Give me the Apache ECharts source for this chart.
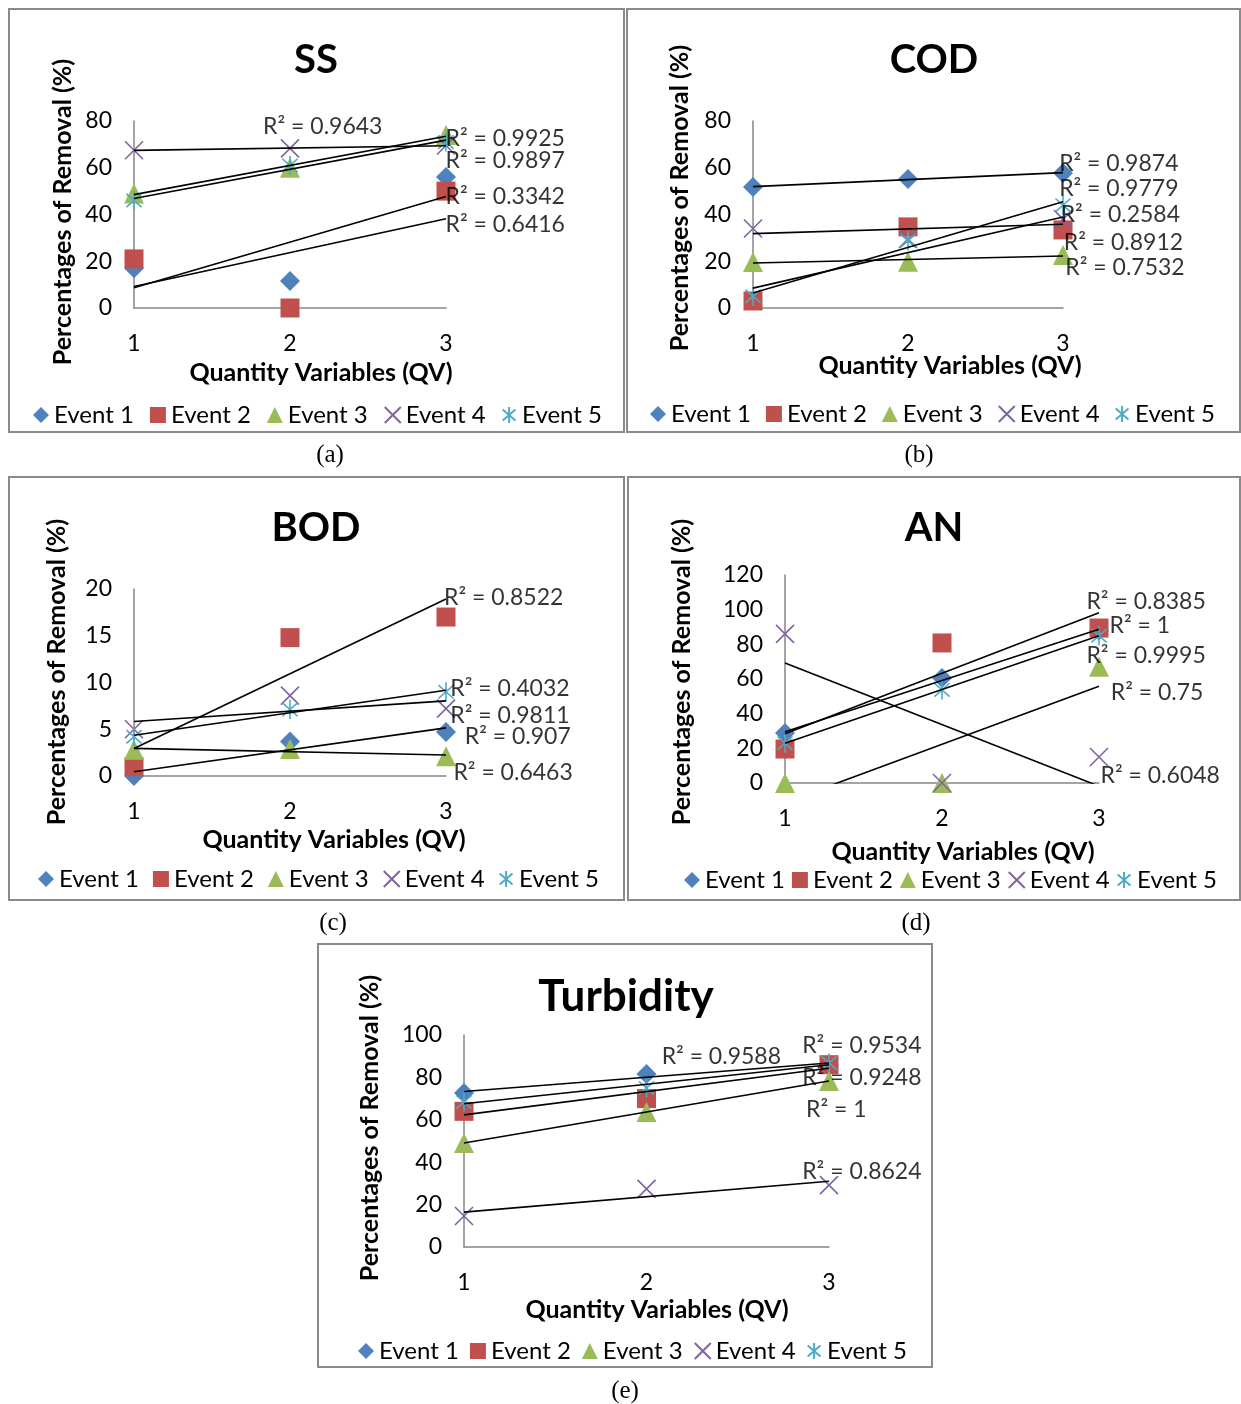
<!DOCTYPE html>
<html><head><meta charset="utf-8">
<script src="https://cdn.jsdelivr.net/npm/echarts@6/dist/echarts.min.js"></script>
<style>html,body{margin:0;padding:0;background:#fff}#c{width:1241px;height:1404px}</style>
</head><body><div id="c"></div>
<script>
// ---------- DATA ----------
const qv = [1, 2, 3];
const eventNames = ['Event 1', 'Event 2', 'Event 3', 'Event 4', 'Event 5'];
const chartTitles = ['SS', 'COD', 'BOD', 'AN', 'Turbidity'];
const captions = ['(a)', '(b)', '(c)', '(d)', '(e)'];
const xAxisTitle = 'Quantity Variables (QV)';
const yAxisTitle = 'Percentages of Removal (%)';

// rows = Event 1..5, columns = QV 1,2,3
const ssValues   = [[17, 11.5, 56], [21, 0, 50], [49, 60, 74], [67.5, 68.3, 69.5], [46, 61, 71]];
const codValues  = [[51.8, 55.2, 57.8], [3, 34.7, 33.4], [19.7, 19.8, 22.7], [34, 29.5, 38], [5, 28.8, 44]];
const bodValues  = [[0, 3.7, 4.7], [1, 14.8, 17], [2.8, 2.9, 2.1], [5, 8.6, 7.2], [4.2, 7.1, 9]];
const anValues   = [[28.8, 60.6, 88], [19.6, 80.8, 89.4], [0, 0, 67], [86, 0, 15], [23, 53.7, 85]];
const turbValues = [[72.6, 81.6, 86], [64, 70, 86], [49, 63.7, 78.3], [14.6, 27.4, 29.2], [68.4, 75, 86.8]];

const ssR2   = ['R² = 0.9643', 'R² = 0.9925', 'R² = 0.9897', 'R² = 0.3342', 'R² = 0.6416'];
const codR2  = ['R² = 0.9874', 'R² = 0.9779', 'R² = 0.2584', 'R² = 0.8912', 'R² = 0.7532'];
const bodR2  = ['R² = 0.8522', 'R² = 0.4032', 'R² = 0.9811', 'R² = 0.907', 'R² = 0.6463'];
const anR2   = ['R² = 0.8385', 'R² = 1', 'R² = 0.9995', 'R² = 0.75', 'R² = 0.6048'];
const turbR2 = ['R² = 0.9588', 'R² = 0.9534', 'R² = 0.9248', 'R² = 1', 'R² = 0.8624'];

const yMaxes = [80, 80, 20, 120, 100];
const yIntervals = [20, 20, 5, 20, 20];

// ---------- LAYOUT ----------
const panels = [
  { values: ssValues, r2: ssR2, grid: {left: 134, top: 121, width: 312, height: 187}, box: [9, 9, 615, 423],
    titlePos: [316, 60], yTitle: [63, 212], xTitle: [321, 373], legend: [28, 398, 16], cap: [330, 455],
    r2Pos: [[2.21, 77.4], [3.38, 72.3], [3.38, 62.9], [3.38, 47.5], [3.38, 35.9]] },
  { values: codValues, r2: codR2, grid: {left: 753, top: 121, width: 310, height: 187}, box: [627, 9, 613, 423],
    titlePos: [934, 60], yTitle: [680, 198], xTitle: [950, 366], legend: [645, 397, 15], cap: [919, 455],
    r2Pos: [[3.36, 61.6], [3.36, 51.3], [3.37, 39.8], [3.39, 28.2], [3.40, 17.5]] },
  { values: bodValues, r2: bodR2, grid: {left: 134, top: 589, width: 312, height: 187}, box: [9, 477, 615, 423],
    titlePos: [316, 528], yTitle: [57, 672], xTitle: [334, 840], legend: [33, 862, 14], cap: [333, 923],
    r2Pos: [[3.37, 19.1], [3.41, 9.3], [3.41, 6.5], [3.46, 4.2], [3.43, 0.4]] },
  { values: anValues, r2: anR2, grid: {left: 785, top: 575, width: 314, height: 208}, box: [628, 477, 612, 423],
    titlePos: [934, 528], yTitle: [682, 672], xTitle: [963, 852], legend: [679, 863, 7], cap: [916, 923],
    r2Pos: [[3.30, 104.4], [3.26, 90.6], [3.30, 73.3], [3.37, 51.9], [3.39, 4.0]] },
  { values: turbValues, r2: turbR2, grid: {left: 464, top: 1035, width: 365, height: 212}, box: [318, 944, 614, 423],
    titlePos: [626, 997], yTitle: [370, 1128], xTitle: [657, 1310], legend: [353, 1334, 11], cap: [625, 1391],
    r2Pos: [[2.41, 89.6], [3.18, 94.8], [3.18, 79.7], [3.04, 64.6], [3.18, 35.4]] }
];

const FONT = 'Lato';
const colors = ['#4F81BD', '#C0504D', '#9BBB59', '#8064A2', '#4BACC6'];
const symbols = ['diamond', 'rect', 'triangle', 'path://M0,0L10,10M10,0L0,10', 'path://M1,1.5L9,8.5M9,1.5L1,8.5M5,0L5,10'];
const symSizes = [20, 19, 20, 18, 19];
const titleSizes = [40, 40, 40, 40, 44];

function trend(ys) {
  const n = qv.length;
  const mx = qv.reduce((a, b) => a + b, 0) / n;
  const my = ys.reduce((a, b) => a + b, 0) / n;
  let sxy = 0, sxx = 0;
  for (let i = 0; i < n; i++) { sxy += (qv[i] - mx) * (ys[i] - my); sxx += (qv[i] - mx) ** 2; }
  const b = sxy / sxx, a = my - b * mx;
  return [[qv[0], a + b * qv[0]], [qv[n - 1], a + b * qv[n - 1]]];
}

const grids = [], xAxes = [], yAxes = [], series = [], legends = [], graphics = [];
panels.forEach((p, i) => {
  grids.push(p.grid);
  xAxes.push({ gridIndex: i, type: 'value', min: 1, max: 3, interval: 1,
    axisLine: { show: true, lineStyle: { color: '#868686', width: 1.5 } }, axisTick: { show: false },
    splitLine: { show: false }, axisLabel: { fontSize: 23, color: '#000', fontFamily: FONT, margin: 24 } });
  yAxes.push({ gridIndex: i, type: 'value', min: 0, max: yMaxes[i], interval: yIntervals[i],
    axisLine: { show: true, lineStyle: { color: '#868686', width: 1.5 } }, axisTick: { show: false },
    splitLine: { show: false }, axisLabel: { fontSize: 23, color: '#000', fontFamily: FONT, margin: 22 } });
  p.values.forEach((vals, k) => {
    const stroke = k >= 3;
    series.push({ type: 'scatter', name: eventNames[k], xAxisIndex: i, yAxisIndex: i,
      symbol: symbols[k], symbolSize: symSizes[k], symbolKeepAspect: true,
      itemStyle: stroke ? { color: colors[k], borderColor: colors[k], borderWidth: 1.6, opacity: 1 } : { color: colors[k], opacity: 1 },
      data: qv.map((x, j) => [x, vals[j]]), z: 2 });
  });
  p.values.forEach((vals) => {
    series.push({ type: 'line', name: 'trend', xAxisIndex: i, yAxisIndex: i, symbol: 'none', silent: true,
      clip: true, lineStyle: { color: '#000', width: 1.6 }, data: trend(vals), z: 3 });
  });
  series.push({ type: 'scatter', name: 'r2', xAxisIndex: i, yAxisIndex: i, symbolSize: 0, clip: false, silent: true, z: 4,
    label: { show: true, position: 'inside', formatter: '{b}', color: '#000', fontSize: 23, fontFamily: FONT },
    data: p.r2.map((t, k) => ({ name: t, value: p.r2Pos[k] })) });
  legends.push({ data: eventNames, left: p.legend[0], top: p.legend[1], itemGap: p.legend[2], itemWidth: 16, itemHeight: 16,
    width: 600, textStyle: { fontSize: 24, color: '#000', fontFamily: FONT }, selectedMode: false });
  graphics.push({ type: 'rect', shape: { x: p.box[0], y: p.box[1], width: p.box[2], height: p.box[3] },
    style: { fill: 'none', stroke: '#8a8a8a', lineWidth: 2 }, z: 0 });
  graphics.push({ type: 'text', x: p.titlePos[0], y: p.titlePos[1], style: { text: chartTitles[i], font: 'bold ' + titleSizes[i] + 'px ' + FONT,
    fill: '#000', textAlign: 'center', textVerticalAlign: 'middle', align: 'center', verticalAlign: 'middle' } });
  graphics.push({ type: 'text', x: p.xTitle[0], y: p.xTitle[1], style: { text: xAxisTitle, font: 'bold 25px ' + FONT,
    fill: '#000', textAlign: 'center', textVerticalAlign: 'middle', align: 'center', verticalAlign: 'middle' } });
  graphics.push({ type: 'text', x: p.yTitle[0], y: p.yTitle[1], rotation: Math.PI / 2, style: { text: yAxisTitle, font: 'bold 25px ' + FONT,
    fill: '#000', textAlign: 'center', textVerticalAlign: 'middle', align: 'center', verticalAlign: 'middle' } });
  graphics.push({ type: 'text', x: p.cap[0], y: p.cap[1], style: { text: captions[i], font: '25px "Liberation Serif", "DejaVu Serif", serif',
    fill: '#000', textAlign: 'center', textVerticalAlign: 'middle', align: 'center', verticalAlign: 'middle' } });
});

const chart = echarts.init(document.getElementById('c'), null, { renderer: 'canvas' });
chart.setOption({
  animation: false,
  backgroundColor: '#fff',
  textStyle: { fontFamily: FONT },
  grid: grids, xAxis: xAxes, yAxis: yAxes, legend: legends, series: series,
  graphic: { elements: graphics }
});
</script></body></html>
